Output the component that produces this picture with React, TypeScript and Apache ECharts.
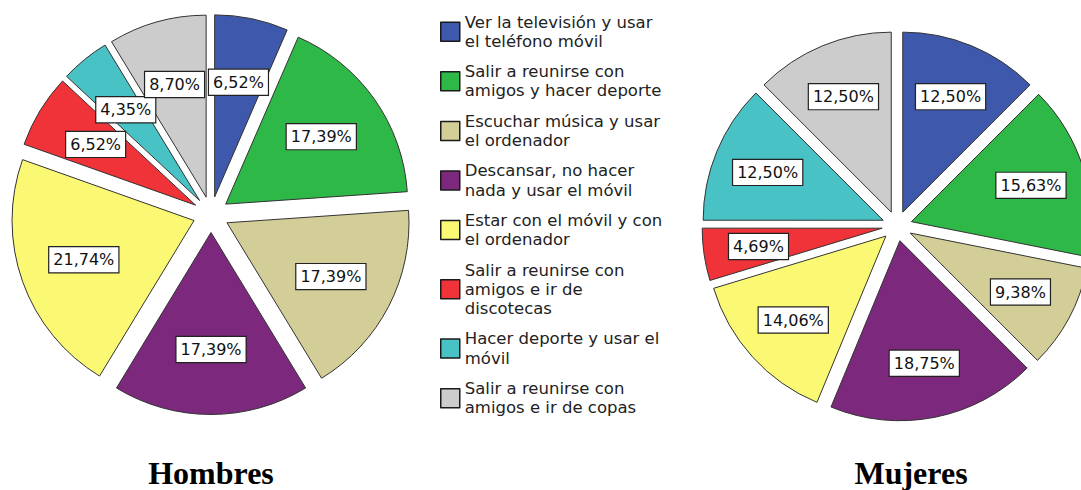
import React, { useEffect, useRef } from 'react';
import * as echarts from 'echarts';

const categories = [
  'Ver la televisión y usar\nel teléfono móvil',
  'Salir a reunirse con\namigos y hacer deporte',
  'Escuchar música y usar\nel ordenador',
  'Descansar, no hacer\nnada y usar el móvil',
  'Estar con el móvil y con\nel ordenador',
  'Salir a reunirse con\namigos e ir de\ndiscotecas',
  'Hacer deporte y usar el\nmóvil',
  'Salir a reunirse con\namigos e ir de copas',
];
const colors = ['#3E58AC', '#2EB848', '#D3CE97', '#7C287D', '#FBF873', '#EF3338', '#48C2C5', '#CCCCCC'];
const hombresValues = [6.52, 17.39, 17.39, 17.39, 21.74, 6.52, 4.35, 8.7];
const mujeresValues = [12.5, 15.63, 9.38, 18.75, 14.06, 4.69, 12.5, 12.5];
const titles = ['Hombres', 'Mujeres'];

const pies = [
  { center: [211, 214.5], r: 182, offset: 18, labelR: 228, values: hombresValues },
  { center: [897, 226], r: 180, offset: 15, labelR: 244, values: mujeresValues },
];
const titlePos = [[211, 473], [911, 473]];

const fmt = (v: number) => v.toFixed(2).replace('.', ',') + '%';

export default function App() {
  const ref = useRef<HTMLDivElement>(null);
  useEffect(() => {
    document.body.style.margin = '0';
    const chart = echarts.init(ref.current!, null, { renderer: 'svg' });
    const visible = pies.map((p) => ({
      type: 'pie',
      center: p.center,
      radius: [0, p.r],
      startAngle: 90,
      clockwise: true,
      selectedMode: 'multiple',
      selectedOffset: p.offset,
      avoidLabelOverlap: false,
      label: { show: false },
      labelLine: { show: false },
      emphasis: { disabled: true },
      itemStyle: { borderColor: '#333', borderWidth: 1 },
      data: p.values.map((v, i) => ({
        name: categories[i],
        value: v,
        selected: true,
        itemStyle: { color: colors[i] },
      })),
      z: 2,
    }));
    const labels = pies.map((p) => ({
      type: 'pie',
      center: p.center,
      radius: [0, p.labelR],
      startAngle: 90,
      clockwise: true,
      selectedMode: 'multiple',
      selectedOffset: p.offset,
      avoidLabelOverlap: false,
      silent: true,
      emphasis: { disabled: true },
      labelLine: { show: false },
      labelLayout: { hideOverlap: false },
      itemStyle: { color: 'rgba(0,0,0,0)', borderWidth: 0 },
      label: {
        show: true,
        position: 'inside',
        formatter: (prm: any) => fmt(prm.value),
        fontFamily: 'DejaVu Sans',
        fontSize: 16,
        lineHeight: 16,
        color: '#111',
        backgroundColor: '#fff',
        borderColor: '#222',
        borderWidth: 1.2,
        padding: [5, 4, 4, 4],
      },
      data: p.values.map((v, i) => ({ name: categories[i], value: v, selected: true })),
      z: 3,
    }));
    chart.setOption({
      animation: false,
      legend: {
        data: categories,
        orient: 'vertical',
        left: 440,
        top: 12.4,
        padding: 0,
        itemGap: 11,
        itemWidth: 19,
        itemHeight: 19,
        icon: 'rect',
        selectedMode: false,
        itemStyle: { borderColor: '#1a1a1a', borderWidth: 1.5 },
        textStyle: { fontFamily: 'DejaVu Sans', fontSize: 16.5, lineHeight: 19.3, color: '#222' },
      },
      series: [...visible, ...labels],
      graphic: titles.map((t, i) => ({
        type: 'text',
        x: titlePos[i][0],
        y: titlePos[i][1],
        style: {
          text: t,
          fontFamily: 'Liberation Serif',
          fontWeight: 'bold',
          fontSize: 32,
          fill: '#000',
          align: 'center',
          verticalAlign: 'middle',
        },
      })),
    });
    return () => chart.dispose();
  }, []);
  return <div ref={ref} style={{ width: 1081, height: 490 }} />;
}
